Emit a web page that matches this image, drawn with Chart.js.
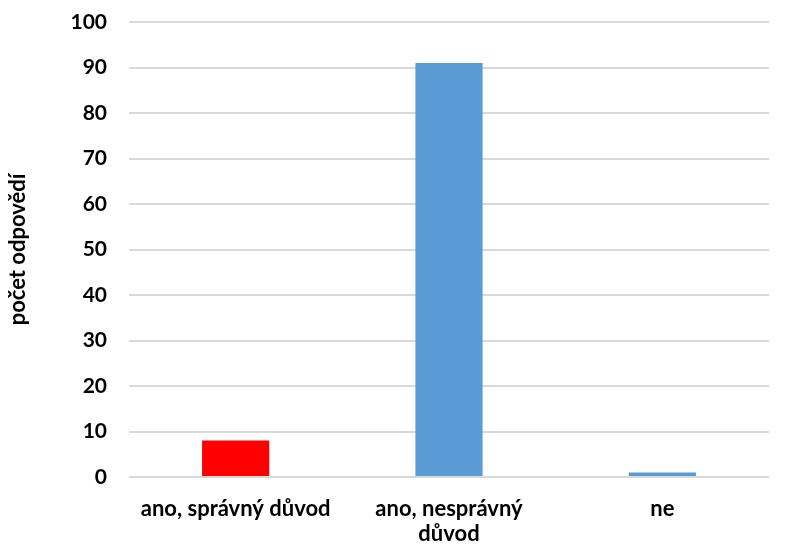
<!DOCTYPE html>
<html>
<head>
<meta charset="utf-8">
<script src="https://cdn.jsdelivr.net/npm/chart.js@4/dist/chart.umd.min.js"></script>
<style>
  html, body { margin: 0; padding: 0; background: #fff; }
  #wrap { width: 789px; height: 547px; }
</style>
</head>
<body>
<div id="wrap"><canvas id="c" width="789" height="547"></canvas></div>
<script>
// Answer categories and counts
const categories = ['ano, správný důvod', ['ano, nesprávný', 'důvod'], 'ne'];
const counts = [8, 91, 1];
const barColors = ['#ff0000', '#5b9bd5', '#5b9bd5'];
const yTitle = 'počet odpovědí';

const fontFamily = 'Lato, "Open Sans", "DejaVu Sans", sans-serif';

new Chart(document.getElementById('c'), {
  type: 'bar',
  data: {
    labels: categories,
    datasets: [{
      data: counts,
      backgroundColor: barColors,
      borderWidth: 0,
      categoryPercentage: 1,
      barPercentage: 0.315
    }]
  },
  options: {
    responsive: false,
    animation: false,
    layout: { padding: { left: 0, right: 20, top: 22, bottom: 0 } },
    plugins: { legend: { display: false }, tooltip: { enabled: false } },
    scales: {
      x: {
        grid: { display: false },
        border: { display: false },
        ticks: {
          color: '#000',
          padding: 12,
          maxRotation: 0,
          autoSkip: false,
          font: { family: fontFamily, size: 22, weight: 'bold', lineHeight: 1.12 }
        },
        afterFit: (s) => { s.height = 70; }
      },
      y: {
        min: 0,
        max: 100,
        ticks: {
          stepSize: 10,
          color: '#000',
          padding: 22,
          font: { family: fontFamily, size: 21, weight: 'bold' }
        },
        grid: { color: '#d9d9d9', lineWidth: 2, drawTicks: false },
        border: { display: false },
        title: {
          display: true,
          text: yTitle,
          color: '#000',
          font: { family: fontFamily, size: 22, weight: 'bold' },
          padding: { top: 5, bottom: 0 }
        },
        afterFit: (s) => {
          s.width = 129;
          s.paddingTop = 0;
          s.paddingBottom = 0;
        }
      }
    }
  }
});
</script>
</body>
</html>
